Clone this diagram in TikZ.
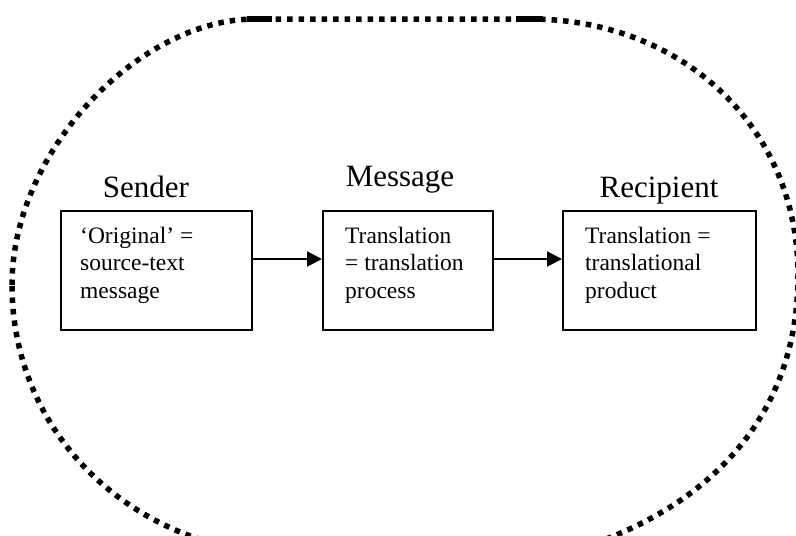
\documentclass[tikz,border=0pt]{standalone}
\usepackage{fontspec}
\setmainfont{Liberation Serif}
\usetikzlibrary{arrows.meta}
\tikzset{
  stagebox/.style={draw, line width=2pt, minimum height=119pt, inner sep=0pt},
  stagetitle/.style={font=\fontsize{31}{37}\selectfont, inner sep=0pt, anchor=base},
  stagetext/.style={font=\fontsize{23.5}{27.5}\selectfont, inner sep=0pt, anchor=base west},
  conn/.style={line width=2pt, -{Triangle[length=15pt,width=15pt]}},
  dotborder/.style={line width=5.5pt, dash pattern=on 5.5pt off 6pt},
  solidbit/.style={line width=5.5pt}
}
\begin{document}
\begin{tikzpicture}[x=1pt,y=-1pt]
\useasboundingbox (0,0) rectangle (796,536);
\begin{scope}
  \clip (0,0) rectangle (796,536);
  \draw[dotborder] (12,285) .. controls (12,150) and (140,19) .. (255,19) -- (530,19)
    .. controls (680,19) and (798,125) .. (798,275)
    .. controls (798,420) and (705,512) .. (568,552) -- (252,552)
    .. controls (110,530) and (12,420) .. (12,285) -- cycle;
  \draw[solidbit] (247,19) -- (272,19);
  \draw[solidbit] (516,19) -- (543,19);
\end{scope}
\node[stagebox, minimum width=191pt] (sender) at (156,270.5) {};
\node[stagebox, minimum width=170pt] (message) at (408,270.5) {};
\node[stagebox, minimum width=193pt] (recipient) at (659.5,270.5) {};
\node[stagetitle] (tsender) at (146,197) {Sender};
\node[stagetitle] (tmessage) at (400,186) {Message};
\node[stagetitle] (trecipient) at (659,197) {Recipient};
\node[stagetext] (xsender) at (80,243) {\begin{tabular}[t]{@{}l@{}}‘Original’ =\\ source-text\\ message\end{tabular}};
\node[stagetext] (xmessage) at (345,243) {\begin{tabular}[t]{@{}l@{}}Translation\\ = translation\\ process\end{tabular}};
\node[stagetext] (xrecipient) at (585,243) {\begin{tabular}[t]{@{}l@{}}Translation =\\ translational\\ product\end{tabular}};
\draw[conn] ([yshift=11.5pt]sender.east) -- ([yshift=11.5pt]message.west);
\draw[conn] ([yshift=11.5pt]message.east) -- ([yshift=11.5pt]recipient.west);
\end{tikzpicture}
\end{document}
